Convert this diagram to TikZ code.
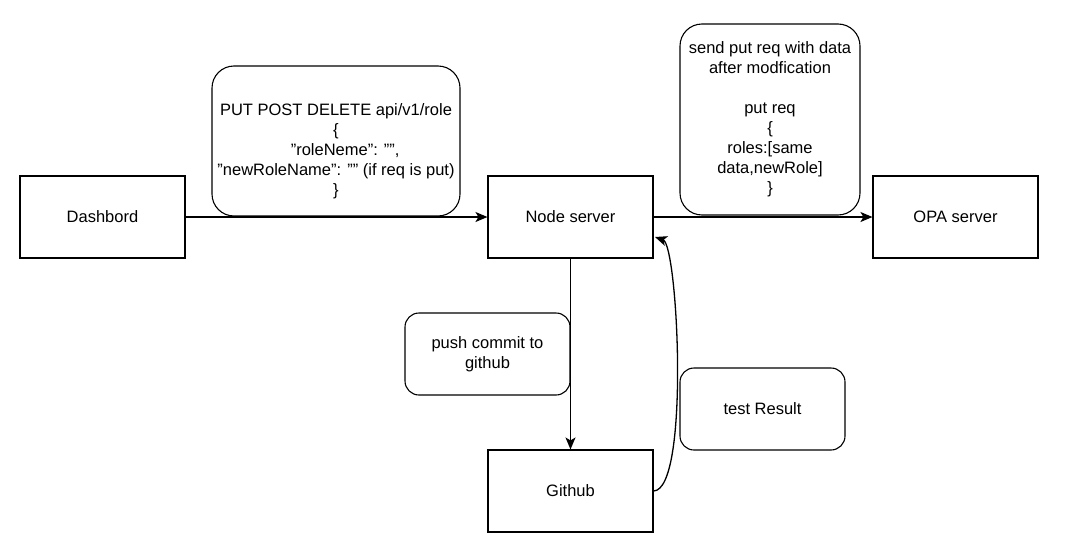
\documentclass[tikz,border=0pt]{standalone}
\usepackage{fontspec}
\setmainfont{Liberation Sans}[Ligatures=ResetAll]
\usetikzlibrary{arrows.meta}
\begin{document}
\begin{tikzpicture}[x=1pt,y=-1pt,
  box/.style={draw,line width=1.1pt,minimum width=165pt,minimum height=82pt,inner sep=0pt,font=\fontsize{16.5}{20}\selectfont},
  lbl/.style={draw,line width=1.1pt,rounded corners=22pt,inner sep=0pt,align=center,font=\fontsize{16.5}{20}\selectfont},
  arr/.style={line width=1.3pt,-{Stealth[length=12pt,width=10pt,inset=3pt]}}]
\useasboundingbox (0,0) rectangle (1082,557);
\node[box] (dash) at (102.5,217) {Dashbord};
\node[box] (node) at (570.5,217) {Node server};
\node[box] (opa) at (955.5,217) {OPA server};
\node[box] (git) at (570.5,491) {Github};
\draw[arr] (dash.east) -- (node.west);
\draw[arr] (node.east) -- (opa.west);
\draw[arr] (node.south) -- (git.north);
\coordinate (tr) at (655,237);
\draw[arr] (git.east) .. controls (690,490) and (678,245) .. (tr);
\node[lbl,minimum width=248pt,minimum height=150pt] (l1) at (336,141) {};
\node[align=center,inner sep=0pt,font=\fontsize{16.5}{20}\selectfont] (t1) at (336,151) {PUT POST DELETE api/v1/role\\\{\\ \ \ \ \ "roleNeme": "",\\"newRoleName": "" (if req is put)\\\}};
\node[lbl,minimum width=180pt,minimum height=191pt] (l2) at (770,119.5) {send put req with data\\after modfication\\[20pt]put req\\\{\\roles:[same\\data,newRole]\\\}};
\node[lbl,rounded corners=14pt,minimum width=165pt,minimum height=82pt] (l3) at (487.5,354) {push commit to\\github};
\node[lbl,rounded corners=14pt,minimum width=165pt,minimum height=82pt] (l4) at (762.5,409) {test Result};
\end{tikzpicture}
\end{document}
